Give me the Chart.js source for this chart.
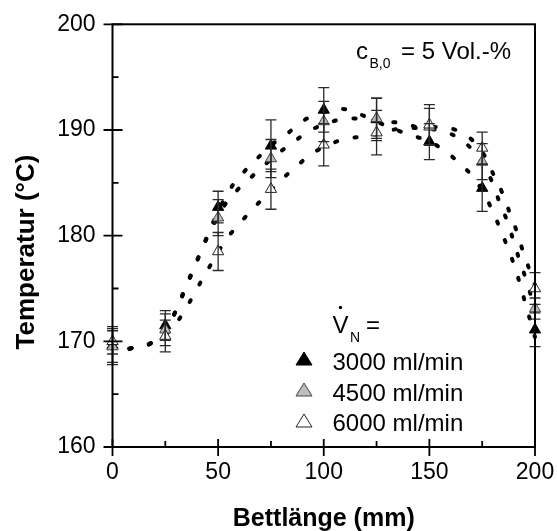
<!DOCTYPE html>
<html>
<head>
<meta charset="utf-8">
<script src="https://cdn.jsdelivr.net/npm/chart.js@4.4.1/dist/chart.umd.min.js"></script>
<style>
  html, body { margin: 0; padding: 0; background: #fff; }
  #wrap { width: 557px; height: 531px; }
</style>
</head>
<body>
<div id="wrap"><canvas id="tempChart" width="557" height="531"></canvas></div>
<script>
// measured points (bed position in mm)
const positions = [0, 25, 50, 75, 100, 125, 150, 175, 200];
const temp3000 = [169.6, 171.5, 182.7, 188.5, 191.9, 191.0, 188.9, 184.5, 171.1];
const err3000 = [1.8, 1.4, 1.5, 2.45, 2.1, 2.0, 1.7, 2.2, 1.6];
const temp4500 = [169.5, 171.1, 181.7, 187.3, 190.8, 191.1, 190.3, 187.0, 173.1];
const err4500 = [1.5, 1.5, 1.7, 1.8, 1.9, 1.9, 1.75, 1.7, 1.0];
const temp6000 = [170.0, 170.5, 178.5, 184.4, 188.6, 189.75, 190.5, 188.3, 175.0];
const err6000 = [1.2, 1.5, 1.8, 1.9, 2.0, 2.1, 1.9, 1.5, 1.5];

// dotted fit curves
const fitX3000 = [8, 18, 25, 30, 33.5, 37.3, 40.8, 44.3, 50, 57, 63, 69.5, 76, 83, 90.5, 100, 108.5, 117, 126, 135.8, 143.2, 151, 158.2, 164.5, 170.5, 175.5, 180, 183.8, 187.4, 190.5, 193.2, 195.7, 200];
const fitY3000 = [169.3, 169.8, 171.0, 172.9, 174.6, 176.4, 178.0, 179.7, 182.3, 184.8, 186.2, 187.5, 188.7, 189.7, 190.9, 191.7, 192.0, 191.5, 190.7, 189.9, 189.4, 188.8, 187.9, 186.8, 185.6, 184.1, 182.3, 180.5, 178.7, 177.0, 175.2, 173.4, 170.4];
const fitX4500 = [8, 18, 25, 30, 37.3, 44.3, 52.8, 59, 65.5, 72, 78.5, 86, 93, 100, 111.6, 120.3, 129.5, 138.5, 145.2, 156.6, 164, 170.5, 175.5, 180.3, 183.1, 186.6, 189.7, 192.6, 195.7, 200];
const fitY4500 = [169.3, 169.8, 171.0, 172.9, 176.3, 179.6, 182.8, 184.3, 185.5, 186.7, 187.8, 188.9, 189.9, 190.5, 191.1, 191.0, 190.8, 190.6, 190.2, 189.9, 189.2, 188.1, 186.7, 184.8, 183.2, 181.5, 179.6, 177.7, 175.9, 173.0];
const fitX6000 = [8, 18, 25, 31.2, 36.2, 40.6, 44.9, 54, 60, 66.2, 72.7, 79, 85.6, 92.7, 100, 109.3, 118.4, 127.4, 134.8, 145, 155, 163.7, 170.5, 176, 180.3, 184.2, 187.6, 191, 193.7, 196.8, 200];
const fitY6000 = [169.3, 169.8, 170.6, 172.0, 173.6, 175.2, 176.7, 179.7, 181.1, 182.5, 183.8, 185.1, 186.3, 187.5, 188.4, 189.1, 189.4, 189.7, 190.1, 190.2, 190.3, 189.9, 189.0, 187.6, 185.8, 184.2, 182.4, 180.6, 178.9, 177.1, 175.3];

const seriesLabels = ["3000 ml/min", "4500 ml/min", "6000 ml/min"];
const xMajor = [0, 50, 100, 150, 200];
const xMinor = [25, 75, 125, 175];
const yMajor = [160, 170, 180, 190, 200];
const yMinor = [165, 175, 185, 195];

const FONT = "'Liberation Sans', Arial, sans-serif";
const fills = ["#000000", "#bdbdbd", "#ffffff"];
const strokes = ["#000000", "#444444", "#222222"];

function toPoints(xs, ys) {
  return xs.map((x, i) => ({ x: x, y: ys[i] }));
}

function fitCurve(xs, ys) {
  return {
    type: "line",
    data: toPoints(xs, ys),
    borderColor: "#000",
    borderWidth: 4,
    borderDash: [2.2, 17.8],
    borderCapStyle: "round",
    pointRadius: 0,
    fill: false,
    cubicInterpolationMode: "monotone",
    clip: false,
    order: 10
  };
}

function markers(ys, idx) {
  return {
    type: "scatter",
    label: seriesLabels[idx],
    data: toPoints(positions, ys),
    pointStyle: "triangle",
    pointRadius: 6.5,
    backgroundColor: fills[idx],
    borderColor: strokes[idx],
    borderWidth: 1,
    clip: false,
    order: 3 - idx
  };
}

function triangle(ctx, x, y, idx) {
  ctx.beginPath();
  ctx.moveTo(x, y - 7);
  ctx.lineTo(x + 8, y + 6);
  ctx.lineTo(x - 8, y + 6);
  ctx.closePath();
  ctx.fillStyle = fills[idx];
  ctx.fill();
  ctx.strokeStyle = strokes[idx];
  ctx.lineWidth = 1;
  ctx.stroke();
}

const decorations = {
  id: "decorations",
  afterDatasetsDraw(chart) {
    const ctx = chart.ctx;
    const xs = chart.scales.x, ys = chart.scales.y;
    const area = chart.chartArea;

    // error bars
    const sets = [[temp3000, err3000], [temp4500, err4500], [temp6000, err6000]];
    ctx.save();
    ctx.strokeStyle = "#2a2a2a";
    ctx.lineWidth = 1.3;
    sets.forEach(([vals, errs]) => {
      positions.forEach((p, i) => {
        const px = xs.getPixelForValue(p);
        const top = ys.getPixelForValue(vals[i] + errs[i]);
        const bot = ys.getPixelForValue(vals[i] - errs[i]);
        ctx.beginPath();
        ctx.moveTo(px, top); ctx.lineTo(px, bot);
        ctx.moveTo(px - 5.5, top); ctx.lineTo(px + 5.5, top);
        ctx.moveTo(px - 5.5, bot); ctx.lineTo(px + 5.5, bot);
        ctx.stroke();
      });
    });

    // frame and ticks
    ctx.strokeStyle = "#000";
    ctx.lineWidth = 2;
    ctx.strokeRect(area.left, area.top, area.right - area.left, area.bottom - area.top);
    ctx.lineWidth = 1.8;
    ctx.beginPath();
    yMajor.forEach(v => {
      const py = ys.getPixelForValue(v);
      ctx.moveTo(area.left - 9, py); ctx.lineTo(area.left + 10, py);
    });
    yMinor.forEach(v => {
      const py = ys.getPixelForValue(v);
      ctx.moveTo(area.left, py); ctx.lineTo(area.left + 6, py);
    });
    xMajor.forEach(v => {
      const px = xs.getPixelForValue(v);
      ctx.moveTo(px, area.bottom - 8); ctx.lineTo(px, area.bottom + 9);
    });
    xMinor.forEach(v => {
      const px = xs.getPixelForValue(v);
      ctx.moveTo(px, area.bottom - 6); ctx.lineTo(px, area.bottom);
    });
    ctx.stroke();

    // y axis title (sits a little below the centre in the original)
    ctx.save();
    ctx.translate(33.6, 252);
    ctx.rotate(-Math.PI / 2);
    ctx.fillStyle = "#000";
    ctx.textAlign = "center";
    ctx.textBaseline = "alphabetic";
    ctx.font = "bold 26px " + FONT;
    ctx.fillText("Temperatur (°C)", 0, 0);
    ctx.restore();

    // legend
    ctx.fillStyle = "#000";
    ctx.textBaseline = "alphabetic";
    ctx.textAlign = "left";
    ctx.font = "24px " + FONT;
    ctx.fillText("V", 332.5, 333);
    ctx.fillText("=", 366, 333);
    ctx.font = "14px " + FONT;
    ctx.fillText("N", 350, 342);
    ctx.beginPath();
    ctx.arc(340.5, 307.5, 1.7, 0, Math.PI * 2);
    ctx.fill();

    const rowY = [370, 400.5, 431];
    const triY = [359, 390, 421];
    seriesLabels.forEach((lab, i) => {
      triangle(ctx, 304, triY[i], i);
      ctx.fillStyle = "#000";
      ctx.font = "24px " + FONT;
      ctx.fillText(lab, 332.5, rowY[i]);
    });

    // concentration note
    ctx.font = "24px " + FONT;
    ctx.fillText("c", 356, 59.3);
    ctx.fillText("= 5 Vol.-%", 401, 59.3);
    ctx.font = "14px " + FONT;
    ctx.fillText("B,0", 369.5, 67.5);
    ctx.restore();
  }
};

const ctx = document.getElementById("tempChart").getContext("2d");
new Chart(ctx, {
  data: {
    datasets: [
      fitCurve(fitX3000, fitY3000),
      fitCurve(fitX4500, fitY4500),
      fitCurve(fitX6000, fitY6000),
      markers(temp3000, 0),
      markers(temp4500, 1),
      markers(temp6000, 2)
    ]
  },
  options: {
    responsive: false,
    animation: false,
    devicePixelRatio: 1,
    layout: { padding: { top: 24.3, right: 22, left: 0, bottom: 0 } },
    plugins: {
      legend: { display: false },
      tooltip: { enabled: false }
    },
    scales: {
      x: {
        type: "linear",
        min: 0,
        max: 200,
        grid: { display: false, drawTicks: false },
        border: { display: false },
        ticks: {
          stepSize: 50,
          color: "#000",
          padding: 12,
          font: { family: FONT, size: 23 }
        },
        title: {
          display: true,
          text: "Bettlänge (mm)",
          color: "#000",
          font: { family: FONT, size: 25, weight: "bold", lineHeight: 1 },
          padding: { top: 0, bottom: -1 }
        },
        afterFit: (s) => { s.height = 84; s.paddingLeft = 0; s.paddingRight = 0; }
      },
      y: {
        type: "linear",
        min: 160,
        max: 200,
        grid: { display: false, drawTicks: false },
        border: { display: false },
        ticks: {
          stepSize: 10,
          color: "#000",
          padding: 17,
          font: { family: FONT, size: 23 }
        },
        title: { display: false },
        afterFit: (s) => { s.width = 112.5; s.paddingTop = 0; s.paddingBottom = 0; }
      }
    }
  },
  plugins: [decorations]
});
</script>
</body>
</html>
